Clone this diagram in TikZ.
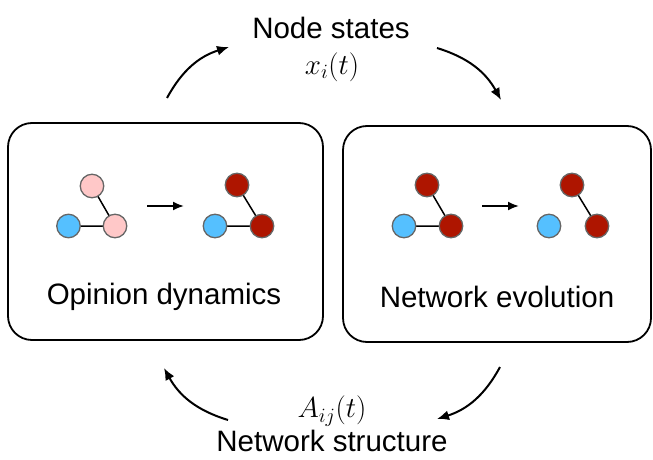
\RequirePackage{fix-cm}
\documentclass[tikz,border=0pt]{standalone}
\usepackage{fontspec}
\setmainfont{Liberation Sans}
\usetikzlibrary{arrows.meta}
\definecolor{pinkn}{HTML}{FFC8C8}
\definecolor{redn}{HTML}{AE1500}
\definecolor{bluen}{HTML}{55C0FF}
\definecolor{bordern}{HTML}{666666}
\begin{document}
\begin{tikzpicture}[x=1pt,y=-1pt,
  panel/.style={draw=black,line width=1.8pt,rounded corners=24pt},
  gnode/.style={circle,draw=bordern,line width=1.3pt,minimum size=23.5pt,inner sep=0pt},
  gedge/.style={line width=1.5pt,black},
  stepar/.style={-{Latex[length=11pt,width=9pt]},line width=1.9pt},
  cyclear/.style={-{Latex[length=12pt,width=10pt]},line width=2pt},
  lbl/.style={font=\fontsize{29.5}{34}\selectfont,inner sep=0pt},
  mlbl/.style={font=\fontsize{29}{34}\selectfont,inner sep=0pt}]
\useasboundingbox (0,0) rectangle (653,460);
% panels
\draw[panel] (8,123) rectangle (323,340);
\draw[panel] (343,126) rectangle (651,342);
% left panel graphs
\draw[gedge] (92,186) -- (115,226) -- (68.5,226);
\node[gnode,fill=pinkn] (a1) at (92,186) {};
\node[gnode,fill=bluen] (a2) at (68.5,226) {};
\node[gnode,fill=pinkn] (a3) at (115,226) {};
\draw[gedge] (237,185) -- (262,226) -- (215,226);
\node[gnode,fill=redn] (b1) at (237,185) {};
\node[gnode,fill=bluen] (b2) at (215,226) {};
\node[gnode,fill=redn] (b3) at (262,226) {};
\coordinate (la1) at (147,206);
\coordinate (la2) at (184,206);
\draw[stepar] (la1) -- (la2);
\node[lbl] (op) at (164,297) {Opinion dynamics};
% right panel graphs
\draw[gedge] (427,185) -- (451,226) -- (404,226);
\node[gnode,fill=redn] (c1) at (427,185) {};
\node[gnode,fill=bluen] (c2) at (404,226) {};
\node[gnode,fill=redn] (c3) at (451,226) {};
\draw[gedge] (572,185) -- (597,226);
\node[gnode,fill=redn] (d1) at (572,185) {};
\node[gnode,fill=bluen] (d2) at (549,226) {};
\node[gnode,fill=redn] (d3) at (597,226) {};
\coordinate (ra1) at (482,206);
\coordinate (ra2) at (519,206);
\draw[stepar] (ra1) -- (ra2);
\node[lbl] (ne) at (497,297) {Network evolution};
% top labels
\node[lbl] (ns) at (331,28) {Node states};
\node[mlbl] (xi) at (332,67) {$x_i(t)$};
% bottom labels
\node[mlbl] (aij) at (332,411) {$A_{ij}(t)$};
\node[lbl] (nst) at (332,441) {Network structure};
% cycle arrows
\coordinate (t1) at (167,98);
\coordinate (t2) at (229,47);
\draw[cyclear] (t1) to[bend left=22] (t2);
\coordinate (t3) at (437,48);
\coordinate (t4) at (501,100);
\draw[cyclear] (t3) to[bend left=22] (t4);
\coordinate (b1s) at (500,367);
\coordinate (b1e) at (437,419);
\draw[cyclear] (b1s) to[bend left=22] (b1e);
\coordinate (b2s) at (228,420);
\coordinate (b2e) at (164,368);
\draw[cyclear] (b2s) to[bend left=22] (b2e);
\end{tikzpicture}
\end{document}
